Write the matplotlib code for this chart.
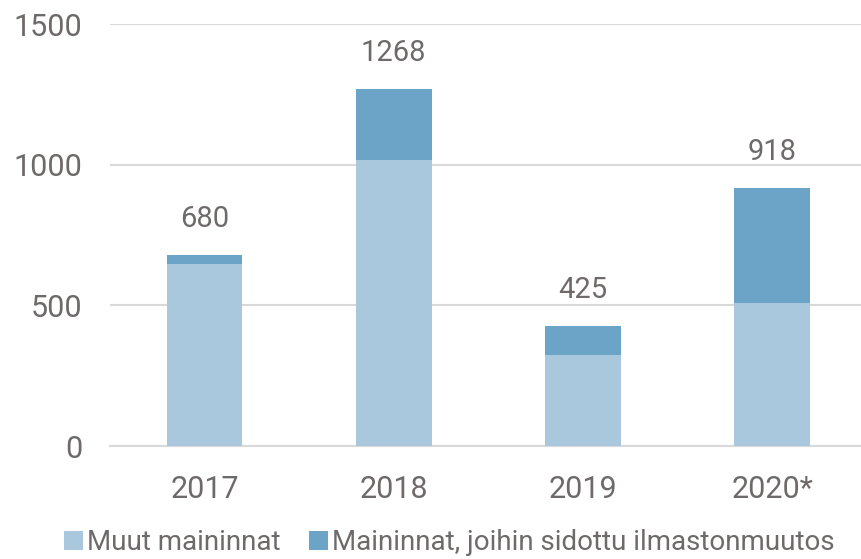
import matplotlib
matplotlib.use("Agg")
import matplotlib.pyplot as plt
import numpy as np

years = ["2017", "2018", "2019", "2020*"]
muut = [648, 1018, 324, 510]
ilmasto = [32, 250, 101, 408]
totals = [680, 1268, 425, 918]
yticks = [0, 500, 1000, 1500]

c_light = "#A9C8DD"
c_dark = "#6CA4C7"
c_text = "#6F6A6A"

plt.rcParams["font.family"] = ["Roboto", "DejaVu Sans"]

fig = plt.figure(figsize=(8.61, 5.59), dpi=100)
ax = fig.add_axes([110/861, 113/559, 751/861, 422/559])

x = np.arange(len(years))
w = 0.40
ax.bar(x, muut, w, color=c_light, label="Muut maininnat", zorder=3)
ax.bar(x, ilmasto, w, bottom=muut, color=c_dark,
       label="Maininnat, joihin sidottu ilmastonmuutos", zorder=3)

for xi, t in zip(x, totals):
    ax.text(xi, t + 78, str(t), ha="center", va="bottom", fontsize=21, color=c_text)

ax.set_xlim(-0.5, 3.47)
ax.set_ylim(0, 1500)
ax.set_yticks(yticks)
ax.set_xticks(x)
ax.set_xticklabels(years)
ax.yaxis.grid(True, color="#D9D9D9", linewidth=1.5, zorder=0)
ax.tick_params(axis="both", length=0, labelsize=22, colors=c_text)
ax.tick_params(axis="x", pad=21)
ax.tick_params(axis="y", pad=20)
for lbl in ax.get_yticklabels():
    lbl.set_horizontalalignment("right")
for s in ["top", "right", "left"]:
    ax.spines[s].set_visible(False)
ax.spines["bottom"].set_color("#D9D9D9")
ax.spines["bottom"].set_linewidth(1.5)

leg = fig.legend(loc="lower center", bbox_to_anchor=(0.522, -0.04), ncol=2,
                 frameon=False, fontsize=20, handlelength=0.7, handleheight=0.7,
                 handletextpad=0.15, columnspacing=1.0, labelcolor=c_text)

fig.savefig("out.png", dpi=100)
